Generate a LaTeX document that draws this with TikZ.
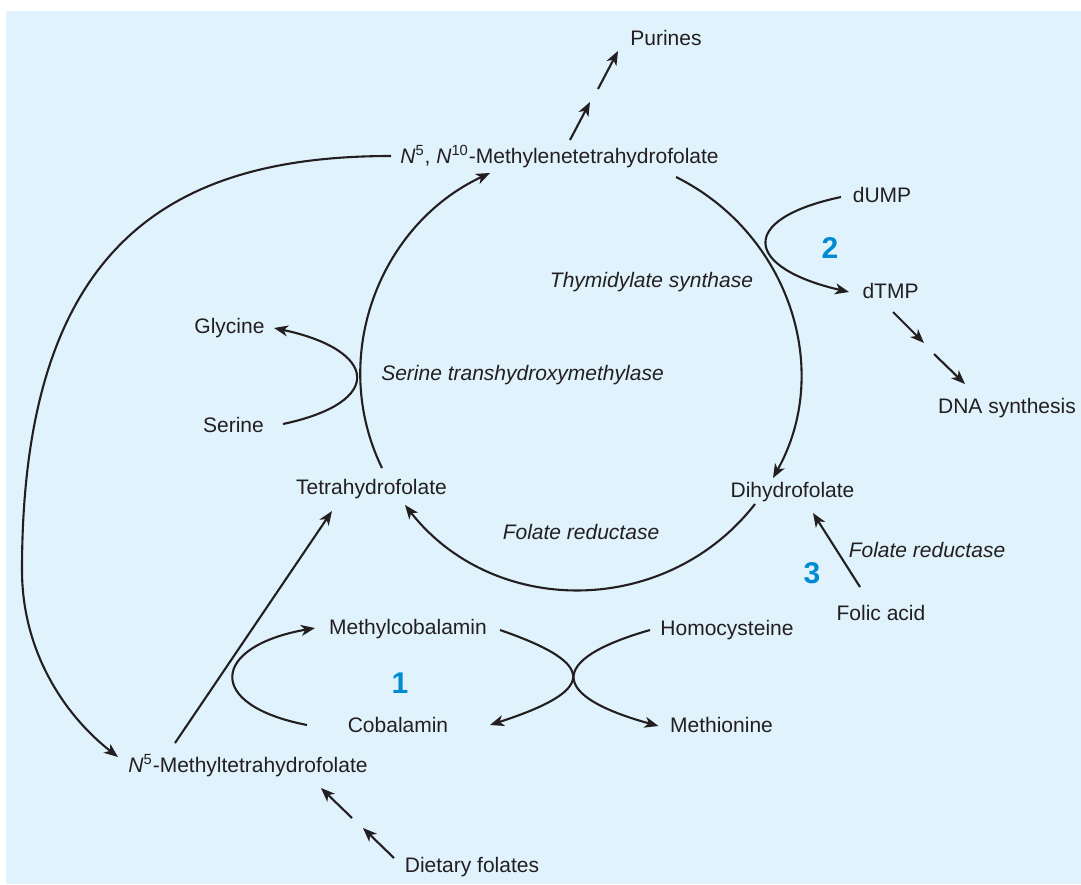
\documentclass[tikz,border=0pt]{standalone}
\usepackage{fontspec}
\setmainfont{Liberation Sans}
\usetikzlibrary{arrows.meta}
\definecolor{bgblue}{RGB}{224,242,252}
\definecolor{ink}{RGB}{35,31,32}
\definecolor{numblue}{RGB}{0,138,210}
\begin{document}
\begin{tikzpicture}[x=0.5pt,y=-0.5pt,
  lbl/.style={anchor=base, inner sep=0pt, text=ink, font=\fontsize{10.5}{12}\selectfont},
  enz/.style={lbl, font=\fontsize{10.5}{12}\selectfont\itshape},
  num/.style={anchor=base, inner sep=0pt, text=numblue, font=\fontsize{15}{18}\selectfont\bfseries},
  conn/.style={draw=ink, line width=1.05pt},
  arr/.style={conn, -{Stealth[length=7pt,width=5.5pt,inset=2pt]}}]

\useasboundingbox (0,0) rectangle (1081,884);
\fill[bgblue] (6,11) rectangle (1081,884);

% nodes
\node[lbl] (pur) at (666,45) {Purines};
\node[lbl] (mth) at (559.5,163) {\textit{N}\textsuperscript{5}, \textit{N}\textsuperscript{10}-Methylenetetrahydrofolate};
\node[lbl] (dump) at (882,202) {dUMP};
\node[num] (n2) at (830,258) {2};
\node[lbl] (dtmp) at (890.5,298) {dTMP};
\node[lbl] (dna) at (1007,413) {DNA synthesis};
\node[enz] (ts) at (651.5,287) {Thymidylate synthase};
\node[lbl] (gly) at (229.5,333) {Glycine};
\node[lbl] (ser) at (233.5,432) {Serine};
\node[enz] (sht) at (522.5,380) {Serine transhydroxymethylase};
\node[lbl] (thf) at (371.5,494) {Tetrahydrofolate};
\node[lbl] (dhf) at (792.5,497) {Dihydrofolate};
\node[enz] (fr1) at (581,539) {Folate reductase};
\node[enz] (fr2) at (927,557) {Folate reductase};
\node[num] (n3) at (812,583) {3};
\node[lbl] (fol) at (881,620) {Folic acid};
\node[lbl] (mcob) at (408,634) {Methylcobalamin};
\node[lbl] (hcy) at (727,635) {Homocysteine};
\node[num] (n1) at (400,693) {1};
\node[lbl] (cob) at (398,732) {Cobalamin};
\node[lbl] (met) at (721.5,732) {Methionine};
\node[lbl] (n5m) at (248,772) {\textit{N}\textsuperscript{5}-Methyltetrahydrofolate};
\node[lbl] (diet) at (472,872) {Dietary folates};

% free ends of broken arrows
\coordinate (pa) at (590,102);
\coordinate (pb) at (598,89);
\coordinate (da) at (924,343);
\coordinate (db) at (934,354);
\coordinate (fa) at (363,828);
\coordinate (fb) at (352,818);
\coordinate (bl) at (22,570);

% main cycle
\draw[arr] ([shift={(10.5,-26)}]thf.base) to[out=116,in=205] ([shift={(-69.5,10)}]mth.base);
\draw[arr] ([shift={(116.5,14)}]mth.base) to[out=-26.4,in=60.8,looseness=1.01] ([shift={(-19.5,-19)}]dhf.base);
\draw[arr] ([shift={(-37.5,7)}]dhf.base) to[out=-127.9,in=-51.9,looseness=1.05] ([shift={(33.5,11)}]thf.base);

% purines
\draw[arr] ([shift={(10.5,-23)}]mth.base) -- (pa);
\draw[arr] (pb) -- ([shift={(-48,6)}]pur.base);

% serine / glycine
\draw[arr] ([shift={(49.5,-8)}]ser.base) to[out=12,in=-12,looseness=2.8] ([shift={(44.5,-5)}]gly.base);

% folic acid
\draw[arr] ([shift={(-21,-33)}]fol.base) -- ([shift={(20.5,16)}]dhf.base);

% dUMP / dTMP
\draw[arr] ([shift={(-41,-5)}]dump.base) to[out=192,in=167,looseness=2.88] ([shift={(-41.5,-6)}]dtmp.base);
\draw[arr] ([shift={(2.5,14)}]dtmp.base) -- (da);
\draw[arr] (db) -- ([shift={(-42,-29)}]dna.base);

% big outer curve
\draw[arr] ([shift={(-168.5,-7)}]mth.base) .. controls (173,156) and (22,242) .. (bl)
  .. controls (22,650) and (63,714) .. ([shift={(-130,-15)}]n5m.base);

\draw[arr] ([shift={(-73,-29)}]n5m.base) -- ([shift={(-39.5,17)}]thf.base);

% cobalamin cycle
\draw[arr] ([shift={(-91,-7)}]cob.base) to[out=169,in=-170,looseness=2.77] ([shift={(-93,-6)}]mcob.base);
\draw[arr] ([shift={(92,-4)}]mcob.base) to[out=-19,in=18,looseness=2.9] ([shift={(92,-7)}]cob.base);
\draw[arr] ([shift={(-77,-5)}]hcy.base) to[out=196,in=164.6,looseness=2.92] ([shift={(-63,-6)}]met.base);

% dietary folates
\draw[arr] ([shift={(-78,-14)}]diet.base) -- (fa);
\draw[arr] (fb) -- ([shift={(73,16)}]n5m.base);
\end{tikzpicture}
\end{document}
